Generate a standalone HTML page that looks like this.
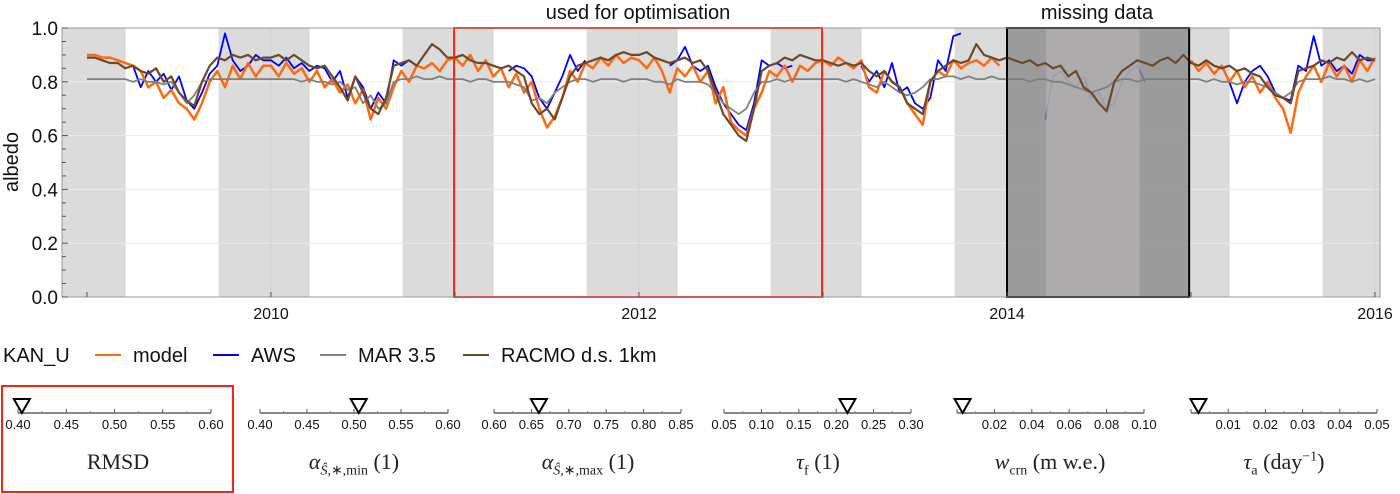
<!DOCTYPE html>
<html><head><meta charset="utf-8">
<style>
body{margin:0;background:#fff;width:1400px;height:494px;overflow:hidden;font-family:"Liberation Sans",sans-serif;}
svg{position:absolute;left:0;top:0}
.ttl{position:absolute;font-family:"Liberation Serif",serif;font-size:22px;color:#222;white-space:nowrap;transform:translateX(-50%);top:449px}
.ttl i{font-style:italic}
.ttl sub,.ttl sup{font-size:14px}
</style></head><body>
<svg id="chart" width="1400" height="494"></svg>
<div class="ttl" style="left:118px">RMSD</div>
<div class="ttl" style="left:354px"><i>α</i><sub><i>Ŝ</i>,∗,min</sub> (1)</div>
<div class="ttl" style="left:588px"><i>α</i><sub><i>Ŝ</i>,∗,max</sub> (1)</div>
<div class="ttl" style="left:818px"><i>τ</i><sub>f</sub> (1)</div>
<div class="ttl" style="left:1050px"><i>w</i><sub>crn</sub> (m w.e.)</div>
<div class="ttl" style="left:1284px"><i>τ</i><sub>a</sub> (day<sup>−1</sup>)</div>
<script>
const N=null;
const startYear=2009, stepsPerYear=24;
const model=[.90,.90,.89,.89,.88,.87,.86,.84,.78,.80,.74,.77,.72,.70,.66,.72,.80,.84,.78,.86,.81,.87,.82,.86,
.86,.82,.87,.83,.85,.80,.84,.78,.81,.76,.79,.72,.77,.66,.74,.70,.78,.84,.80,.86,.85,.87,.84,.88,
.89,.86,.90,.84,.88,.82,.85,.78,.83,.76,.80,.70,.63,.67,.74,.84,.80,.87,.85,.89,.86,.90,.87,.89,
.88,.85,.89,.84,.76,.85,.82,.86,.80,.84,.72,.78,.65,.62,.60,.70,.76,.84,.82,.86,.80,.86,.84,.87,
.88,.86,.89,.87,.85,.88,.78,.76,.84,.80,.78,.72,.68,.64,.80,.84,.82,.88,.85,.87,.88,.86,.89,.86,
N,N,N,N,N,N,N,N,N,N,N,N,N,N,N,N,N,N,N,N,N,N,N,N,
.88,.84,.87,.83,.86,.80,.84,.78,.82,.76,.80,.74,.70,.61,.76,.82,.86,.80,.87,.82,.86,.80,.88,.84,.89];
const aws=[N,N,N,N,N,N,.86,.78,.84,.80,.83,.77,.82,.73,.70,.76,.83,.86,.98,.88,.84,.86,.90,.88,
.88,.86,.89,.85,.87,.84,.86,.85,.80,.84,.74,.82,.78,.70,.76,.72,.88,.86,.88,N,N,N,N,N,
N,N,N,N,N,N,N,.84,.86,.85,.82,.74,.70,.76,.82,.90,.84,.88,N,N,N,N,N,N,
N,N,N,N,.86,.88,.93,.86,.84,.86,.78,.72,.68,.64,.62,.72,.88,.86,.87,.85,.86,N,N,N,
N,N,N,N,N,.86,.80,.84,.78,.87,.76,.78,.72,.70,.74,.88,.84,.97,.98,N,N,N,N,N,
N,N,N,N,N,.66,.82,.84,.80,.78,.82,.74,.76,.70,.72,.80,.84,.86,.80,N,N,N,N,N,
N,N,N,N,N,.80,.72,.80,.84,.86,.82,.76,.74,.73,.86,.84,.97,.86,.88,.84,.86,.83,.90,.88,.88];
const mar=[.81,.81,.81,.81,.81,.81,.80,.81,.80,.80,.79,.80,.76,.72,.75,.80,.81,.81,.81,.81,.81,.81,.81,.81,
.81,.81,.81,.81,.80,.81,.80,.80,.79,.80,.77,.78,.72,.75,.70,.72,.80,.81,.81,.82,.81,.81,.82,.81,
.81,.81,.80,.81,.81,.80,.80,.80,.79,.78,.73,.74,.72,.76,.78,.80,.81,.81,.80,.81,.81,.81,.80,.81,
.81,.81,.80,.80,.79,.81,.80,.80,.80,.79,.76,.72,.70,.68,.70,.76,.80,.80,.81,.80,.81,.81,.81,.81,
.81,.81,.81,.80,.81,.80,.79,.78,.80,.78,.76,.75,.76,.78,.81,.81,.82,.82,.81,.82,.81,.81,.82,.81,
.81,.81,.81,.80,.81,.81,.80,.80,.79,.78,.77,.76,.77,.78,.80,.81,.81,.80,.81,.81,.81,.81,.81,.81,
.81,.81,.80,.81,.80,.80,.79,.80,.80,.79,.78,.76,.74,.76,.80,.81,.81,.81,.82,.81,.81,.80,.81,.80,.81];
const racmo=[.89,.89,.88,.87,.87,.85,.86,.84,.83,.85,.80,.82,.76,.73,.71,.80,.86,.89,.88,.90,.89,.90,.88,.89,
.89,.90,.88,.90,.88,.86,.85,.86,.82,.78,.73,.82,.76,.70,.68,.74,.86,.87,.88,.86,.90,.94,.92,.89,
.89,.90,.88,.87,.87,.86,.85,.86,.84,.82,.72,.68,.70,.66,.74,.82,.86,.87,.88,.89,.88,.90,.91,.90,
.90,.91,.89,.88,.87,.88,.89,.87,.88,.84,.76,.68,.64,.60,.58,.70,.84,.86,.87,.89,.88,.90,.89,.88,
.88,.87,.86,.87,.86,.87,.84,.82,.84,.80,.78,.72,.70,.68,.80,.84,.86,.88,.87,.88,.94,.90,.89,.88,
.89,.88,.87,.88,.86,.87,.85,.86,.82,.84,.78,.76,.72,.69,.80,.84,.86,.88,.87,.86,.88,.89,.87,.90,
.87,.86,.88,.86,.85,.86,.84,.85,.83,.82,.78,.75,.74,.72,.84,.85,.86,.88,.87,.89,.88,.91,.88,.89,.88];
const yTicks=[0,0.2,0.4,0.6,0.8,1.0];
const yearTicks=[2010,2012,2014,2016];
const winters=[2008,2009,2010,2011,2012,2013,2014,2015];
const sliderNames=['rmsd','alpha-min','alpha-max','tau-f','w-crn','tau-a'];
const sliderMin=[0.40,0.40,0.60,0.05,0,0];
const sliderMax=[0.60,0.60,0.85,0.30,0.10,0.05];
const sliderStep=[0.05,0.05,0.05,0.05,0.02,0.01];
const sliderValue=[0.404,0.505,0.66,0.215,0.003,0.002];
const sliderLabelStart=[0.40,0.40,0.60,0.05,0.02,0.01];

const svg=document.getElementById('chart');
const NS='http://www.w3.org/2000/svg';
function el(t,a,p){const e=document.createElementNS(NS,t);for(const k in a)e.setAttribute(k,a[k]);(p||svg).appendChild(e);return e;}
const L=62,R=1380,T=28,B=297;
const X=t=>271+(t-2010)*184;
const Y=v=>B-v*(B-T);
const tOf=i=>startYear+i/stepsPerYear;

for(const w of winters){
  const x0=Math.max(L,X(w+0.715)),x1=Math.min(R,X(w+1.21));
  if(x1<=x0)continue;
  const r=el('rect',{x:x0,y:T,width:x1-x0,height:B-T,fill:'#dcdbdc'});
  
  
}
for(const v of yTicks){const g=el('line',{x1:L,x2:R,y1:Y(v),y2:Y(v),stroke:'#ebebeb','stroke-width':1});
  }
for(const yr of yearTicks){const g=el('line',{x1:X(yr),x2:X(yr),y1:T,y2:B,stroke:'#d0d0d0','stroke-width':1});
  }

function path(arr,color,w,name){
  let d='',pen=false;
  arr.forEach((v,i)=>{if(v==null){pen=false;return;}d+=(pen?'L':'M')+X(tOf(i)).toFixed(1)+' '+Y(v).toFixed(1)+' ';pen=true;});
  const p=el('path',{d:d,fill:'none',stroke:color,'stroke-width':w,'stroke-linejoin':'round'});
  
  
}
path(aws,'#0000ff',1.8,'aws-line');
path(model,'#ff6a10',2.5,'model-line');
const mb0=X(2014),mb1=X(2014.99);
const m1=el('rect',{x:mb0,y:T,width:mb1-mb0,height:B-T,fill:'#8c8b8c','fill-opacity':0.8});

const m2=el('rect',{x:X(2014.215),y:T,width:X(2014.72)-X(2014.215),height:B-T,fill:'#b0aeaf','fill-opacity':0.75});

path(mar,'#808080',1.8,'mar-line');
path(racmo,'#6b4a2a',2.2,'racmo-line');
const mb=el('rect',{x:mb0,y:T,width:mb1-mb0,height:B-T,fill:'none',stroke:'#000','stroke-width':2});

const ob=el('rect',{x:X(2010.995),y:T,width:X(2012.995)-X(2010.995),height:B-T,fill:'none',stroke:'#ff2010','stroke-width':2});


const fr=el('rect',{x:L,y:T,width:R-L,height:B-T,fill:'none',stroke:'#999','stroke-width':1});

for(let v=0;v<=1.0001;v+=0.05){const big=Math.abs(v*5-Math.round(v*5))<1e-6;
  const t=el('line',{x1:L,x2:L+(big?6:4),y1:Y(v),y2:Y(v),stroke:'#555','stroke-width':1});
  }
for(const v of yTicks){const t=el('text',{x:L-4,y:Y(v)+7,'text-anchor':'end','font-size':19,fill:'#111'});t.textContent=v.toFixed(1);
  }
for(let yr=2009;yr<=2016;yr++){const t=el('line',{x1:X(yr),x2:X(yr),y1:B,y2:B-5,stroke:'#555'});
  }
for(const yr of yearTicks){const t=el('text',{x:X(yr),y:319,'text-anchor':'middle','font-size':16,fill:'#111'});t.textContent=yr;
  }
const yl=el('text',{x:0,y:0,transform:'translate(18,162) rotate(-90)','text-anchor':'middle','font-size':20,fill:'#111'});yl.textContent='albedo';

const a1=el('text',{x:638,y:19,'text-anchor':'middle','font-size':20,fill:'#111'});a1.textContent='used for optimisation';

const a2=el('text',{x:1097,y:19,'text-anchor':'middle','font-size':20,fill:'#111'});a2.textContent='missing data';


const lg=el('text',{x:3,y:362,'font-size':20,fill:'#111'});lg.textContent='KAN_U';

const legItems=[['model','#ff6a10',95,'legend-model'],['AWS','#0000ff',213,'legend-aws'],['MAR 3.5','#808080',320,'legend-mar'],['RACMO d.s. 1km','#6b4a2a',463,'legend-racmo']];
for(const [lab,c,x,n] of legItems){
  const g=el('g',{});
  el('line',{x1:x,x2:x+26,y1:355,y2:355,stroke:c,'stroke-width':2},g);
  const t=el('text',{x:x+38,y:362,'font-size':20,fill:'#111'},g);t.textContent=lab;
}
const sx0=[18,260,494,724,957,1191],sx1=[211,448,681,911,1144,1377];
const rb=el('rect',{x:2,y:386,width:231,height:106,fill:'none',stroke:'#ff2010','stroke-width':2});

sliderNames.forEach((nm,k)=>{
  const g=el('g',{});
  const lo=sliderMin[k],hi=sliderMax[k],st=sliderStep[k];
  const S=v=>sx0[k]+(v-lo)/(hi-lo)*(sx1[k]-sx0[k]);
  const sy=413;
  el('line',{x1:S(lo),x2:S(hi),y1:sy,y2:sy,stroke:'#444','stroke-width':1.2},g);
  const n=Math.round((hi-lo)/st);
  for(let j=0;j<=n;j++){const v=lo+j*st;el('line',{x1:S(v),x2:S(v),y1:sy,y2:sy-4,stroke:'#555'},g);
    if(j<n)el('line',{x1:S(v+st/2),x2:S(v+st/2),y1:sy,y2:sy-2,stroke:'#888'},g);
    if(v>=sliderLabelStart[k]-1e-9){const t=el('text',{x:S(v),y:429,'text-anchor':'middle','font-size':13,fill:'#111'},g);t.textContent=v.toFixed(2);}}
  const mx=S(sliderValue[k]);
  const m=el('path',{d:`M${mx-8} ${sy-14} L${mx+8} ${sy-14} L${mx} ${sy} Z`,fill:'#fff',stroke:'#000','stroke-width':2},g);
  
});
</script>
</body></html>
